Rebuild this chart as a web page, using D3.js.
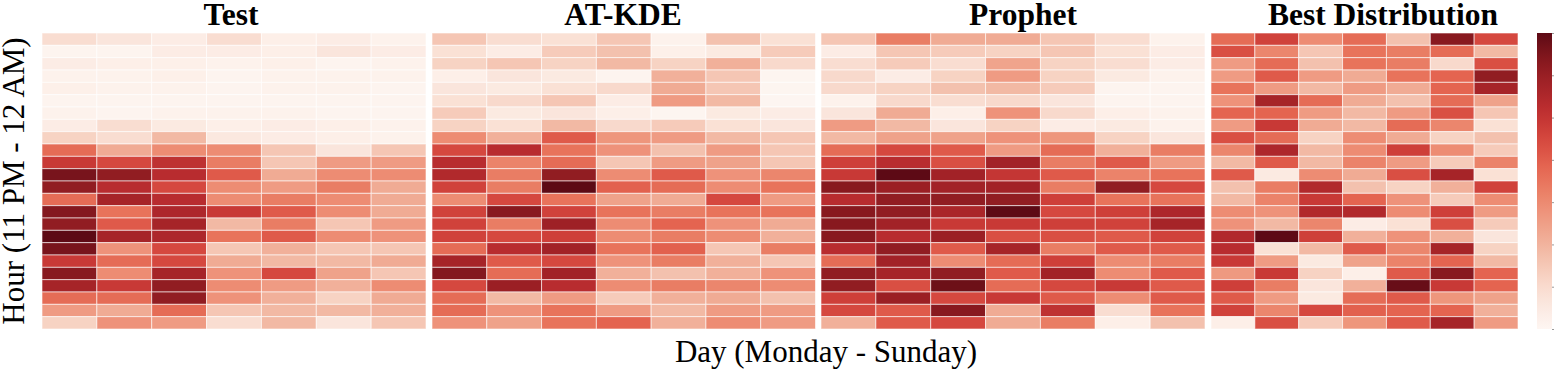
<!doctype html>
<html>
<head>
  <meta charset="utf-8">
  <style>
    body { margin: 0; background: #fff; }
    svg { display: block; }
    text { font-family: "Liberation Serif", "Times New Roman", serif; }
  </style>
  <script src="https://cdn.jsdelivr.net/npm/d3@7"></script>
</head>
<body>
  <script>
  // days (columns) and hours (rows, top = 11 PM)
  var days = ["Mon", "Tue", "Wed", "Thu", "Fri", "Sat", "Sun"];
  var hours = ["11 PM", "10 PM", "9 PM", "8 PM", "7 PM", "6 PM", "5 PM", "4 PM", "3 PM", "2 PM", "1 PM", "12 PM",
               "11 AM", "10 AM", "9 AM", "8 AM", "7 AM", "6 AM", "5 AM", "4 AM", "3 AM", "2 AM", "1 AM", "12 AM"];
  var titles = ["Test", "AT-KDE", "Prophet", "Best Distribution"];

  // intensity, 0 (white) .. 10 (darkest)
  var testVals = [
    [2, 1.5, 1, 2, 0.8, 1, 0.5],
    [0.3, 0.3, 1, 1, 0.8, 1.5, 1],
    [1, 0.8, 0.7, 0.5, 0.7, 0.3, 0.5],
    [0.5, 0.5, 0.7, 0.3, 0.5, 0.5, 0.5],
    [0.7, 0.5, 0.5, 0.3, 0.5, 0.5, 0.3],
    [0.3, 0.3, 0.3, 0.3, 0.3, 0.3, 0.3],
    [0.5, 0.3, 0.5, 0.5, 0.5, 0.3, 0.3],
    [1, 2, 1.2, 0.8, 1, 0.8, 0.5],
    [2.5, 2, 3.5, 1.3, 1, 0.8, 0.5],
    [6, 4, 5, 5, 3, 1.5, 3],
    [7.5, 7, 7.8, 5.5, 3, 4.5, 4.5],
    [9.5, 9, 8, 6.5, 4, 5, 5],
    [9, 8, 7, 5, 4.5, 5.5, 4],
    [6, 8.5, 8, 5, 5.5, 5, 4],
    [9.3, 5.8, 8.3, 7.5, 6.5, 5, 4],
    [9, 6.5, 8.5, 3.5, 5.5, 3, 4.5],
    [10, 8.5, 8.3, 5.8, 6.5, 5, 4.8],
    [9.5, 4.8, 7, 3, 3.8, 3, 3],
    [7.5, 6, 7, 4, 3.5, 3.5, 4],
    [9.2, 5, 8.5, 4.8, 7, 4.3, 3],
    [8.5, 7.5, 9, 5, 4.5, 3.8, 5],
    [6, 6, 9, 4.8, 3.8, 2.5, 4],
    [4.5, 4, 6, 3, 3.5, 3.5, 3.8],
    [2.5, 4.8, 4.5, 2, 3.5, 1.5, 3]
  ];
  var atkdeVals = [
    [3, 2, 1.8, 3, 0.5, 3.2, 1.8],
    [1.8, 1, 2.8, 3.2, 0.7, 1.2, 2.8],
    [2.5, 3, 2.5, 3.5, 2.5, 3.8, 2.2],
    [0.8, 1.5, 1.2, 0.3, 3.8, 3, 0.2],
    [1.5, 1.2, 1.8, 2.2, 4, 3, 0.2],
    [1.8, 2.2, 3, 1, 4.5, 3.5, 0.1],
    [2.8, 1.2, 1.5, 0.8, 0.2, 1.2, 1],
    [2.5, 1.8, 3.5, 2.2, 2.8, 1.8, 1.5],
    [5, 3.8, 6.5, 4.7, 4.5, 3.5, 3],
    [7, 8, 5.8, 4.8, 3.2, 4.5, 3],
    [8, 5.3, 6, 3, 4.5, 4.3, 3],
    [8.2, 5.5, 9, 5, 6.5, 4.8, 5.2],
    [7.2, 5.5, 10, 6.3, 6, 5, 5.8],
    [5, 7, 5.8, 4.3, 4, 7, 4.5],
    [7.2, 9.2, 7.2, 5.8, 5.5, 5.8, 5.8],
    [7.2, 5.5, 8.7, 5, 6.2, 4.8, 4],
    [7.2, 7, 7.3, 5, 5.5, 5, 3.8],
    [6, 8, 8.6, 5.8, 6.3, 3, 5.5],
    [8.5, 6.5, 7, 4.8, 5.5, 3.8, 3],
    [9.3, 6, 8.6, 3.8, 3.2, 3.8, 4.8],
    [7, 8.8, 8, 5, 5.5, 5.2, 5],
    [6, 3.5, 4.5, 2.8, 3.8, 4, 3.2],
    [6, 4.8, 5.8, 4.5, 3.5, 4.5, 4.5],
    [4.8, 4.3, 5.8, 6.2, 3.8, 5, 4.5]
  ];
  var prophetVals = [
    [3, 5.5, 4, 4, 3, 2, 0.5],
    [1, 3, 2.8, 2.5, 3, 1.8, 1],
    [2, 2.8, 2, 4.2, 2.5, 2, 1],
    [2.2, 1, 2.5, 4.5, 2.5, 1.2, 0.5],
    [2.2, 2.5, 3.2, 3.5, 2.8, 0.3, 0.3],
    [0.5, 2.2, 2, 2.2, 1.5, 0.3, 0.3],
    [1.5, 4, 0.8, 4.8, 2.2, 0.8, 0.5],
    [4.5, 3.5, 1.5, 2.5, 1, 1.2, 0.5],
    [3.5, 4.3, 4.3, 4.8, 4.7, 2.5, 1.5],
    [6, 7, 6.5, 4.5, 6, 3.8, 5.5],
    [7.3, 8, 6.8, 8.6, 5.5, 6.5, 4.5],
    [7.5, 10, 8.6, 7.6, 6.5, 5.3, 5.8],
    [9.2, 8.8, 8.6, 8.6, 5.5, 9, 7],
    [8, 9, 9, 9, 7.3, 5.8, 5.8],
    [9.2, 9, 8.4, 10, 7, 7.3, 8.3],
    [9.2, 8.6, 7.5, 7.5, 7.3, 7.2, 8.5],
    [9.2, 8, 8.8, 6.8, 6.8, 6.5, 7.2],
    [8, 9, 6.5, 8.5, 5.5, 6.5, 6.5],
    [6, 8.6, 5, 6, 7.3, 5, 5.5],
    [9, 8.5, 9, 6.5, 8.6, 5, 6.5],
    [9, 6.8, 9.7, 6, 7, 7.5, 6.5],
    [7.3, 8.8, 7, 7.5, 6.5, 5, 6.5],
    [7, 6.5, 9.2, 4, 7.8, 2, 5.8],
    [3.8, 6.5, 7, 4, 5.5, 0.8, 3.2]
  ];
  var bestVals = [
    [6, 7.2, 5, 6, 3.2, 9.2, 7],
    [6.8, 5.2, 3, 5.8, 5.5, 6, 3.5],
    [4.5, 6, 3.2, 5.8, 5.5, 2.2, 6.8],
    [4.5, 6.5, 4.5, 4, 5.8, 6.2, 9],
    [5.8, 4.5, 3.5, 4.5, 4, 6.2, 8.5],
    [4.8, 8.5, 6, 4, 3.2, 6, 4.3],
    [6.2, 6.2, 4.5, 3.5, 4.5, 6.8, 3],
    [4.5, 7.5, 4, 3.5, 6, 5.2, 1.8],
    [6.8, 6, 2.5, 5, 4, 2.5, 3.2],
    [5.2, 8.3, 3.5, 5, 7.3, 5, 2.8],
    [3.5, 6.5, 3.5, 5.3, 4.5, 2.8, 5.3],
    [6.5, 1.2, 5, 4, 6.8, 8.5, 1.8],
    [3.2, 5.5, 8.2, 3.2, 2.5, 3.8, 7.2],
    [3.5, 5.3, 7.5, 6.2, 4.8, 2.8, 5],
    [5, 4.8, 8.2, 8.2, 5, 7.3, 4.5],
    [4.8, 3.5, 5.2, 1, 1.8, 6.8, 2.8],
    [8.2, 10, 7.3, 3.8, 4.8, 3.8, 1.5],
    [8, 1.8, 3.5, 6.5, 5.2, 8.5, 2.5],
    [7.5, 4.5, 1.2, 4.3, 5.3, 6.2, 3.5],
    [4.6, 7.5, 2.5, 0.8, 6.5, 9.2, 6.2],
    [7.3, 5.5, 1.5, 3.8, 9.8, 7.5, 6.2],
    [6.5, 4.5, 1.2, 6, 6.5, 4.7, 4.3],
    [7.2, 5.2, 7, 6.3, 6.2, 6.2, 3.8],
    [0.8, 6.8, 2.8, 4.7, 6.5, 8.5, 4.5]
  ];

  var svgW = 1555;
  var svgH = 373;
  var yTop = 33, yBot = 329;

  // panel left/right edges and title centres
  var panels = [
    { vals: testVals,    x0: 42,   x1: 426,  tx: 231 },
    { vals: atkdeVals,   x0: 432,  x1: 815.5, tx: 623 },
    { vals: prophetVals, x0: 821,  x1: 1205, tx: 1023 },
    { vals: bestVals,    x0: 1211, x1: 1518, tx: 1383 }
  ];

  // seaborn-ish Reds, a bit washed out like the picture
  function reds(t) {
    var c = d3.hsl(d3.interpolateReds(t));
    c.s *= 0.8;
    return c.formatHex();
  }
  var color = d3.scaleSequentialPow(reds).exponent(1.25).domain([0, 10]);

  var svg = d3.select("body")
    .append("svg")
    .attr("width", svgW)
    .attr("height", svgH);

  var y = d3.scaleBand().domain(hours).range([yTop, yBot]);

  panels.forEach(function(p, k) {
    var x = d3.scaleBand().domain(days).range([p.x0, p.x1]);
    var cells = [];
    p.vals.forEach(function(row, i) {
      row.forEach(function(v, j) {
        cells.push({ day: days[j], hour: hours[i], v: v });
      });
    });

    svg.append("g")
      .selectAll("rect")
      .data(cells)
      .enter()
      .append("rect")
      .attr("x", function(d) { return x(d.day); })
      .attr("y", function(d) { return y(d.hour); })
      .attr("width", x.bandwidth())
      .attr("height", y.bandwidth())
      .attr("fill", function(d) { return color(d.v); })
      .attr("stroke", "#fff")
      .attr("stroke-opacity", 0.6)
      .attr("stroke-width", 1);

    svg.append("text")
      .attr("x", p.tx)
      .attr("y", 25)
      .attr("text-anchor", "middle")
      .attr("font-size", "31.5px")
      .attr("font-weight", "bold")
      .text(titles[k]);
  });

  // colorbar
  var defs = svg.append("defs");
  var grad = defs.append("linearGradient")
    .attr("id", "cbar")
    .attr("x1", "0").attr("y1", "1")
    .attr("x2", "0").attr("y2", "0");
  d3.range(0, 1.0001, 0.05).forEach(function(t) {
    grad.append("stop")
      .attr("offset", t)
      .attr("stop-color", reds(t));
  });
  svg.append("rect")
    .attr("x", 1537)
    .attr("y", yTop)
    .attr("width", 15)
    .attr("height", yBot - yTop)
    .attr("fill", "url(#cbar)");

  var cScale = d3.scaleLinear().domain([0, 7]).range([yBot, yTop]);
  var cAxis = svg.append("g")
    .attr("transform", "translate(1552,0)")
    .call(d3.axisRight(cScale).ticks(7).tickSize(2).tickFormat(""));
  cAxis.select(".domain").remove();
  cAxis.selectAll("line").attr("stroke", "#999");

  // axis labels
  svg.append("text")
    .attr("transform", "translate(24," + ((yTop + yBot) / 2) + ") rotate(-90)")
    .attr("text-anchor", "middle")
    .attr("font-size", "31px")
    .text("Hour (11 PM - 12 AM)");

  svg.append("text")
    .attr("x", 826)
    .attr("y", 362)
    .attr("text-anchor", "middle")
    .attr("font-size", "31px")
    .text("Day (Monday - Sunday)");
  </script>
</body>
</html>
